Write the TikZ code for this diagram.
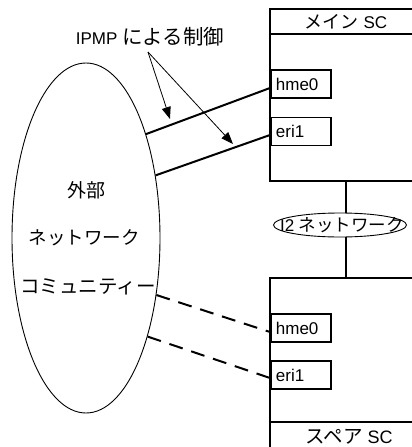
\documentclass[tikz,border=0pt]{standalone}
\usepackage{fontspec}
\setmainfont{Liberation Sans}
\newfontfamily\jp{Noto Sans CJK JP}
\usetikzlibrary{arrows.meta,shapes.geometric}
\begin{document}
\begin{tikzpicture}[x=1pt,y=-1pt,
  box/.style={draw,line width=1.8pt},
  port/.style={draw,line width=1.8pt,minimum height=28pt,text width=50pt,inner xsep=5pt,inner ysep=0pt,align=left,font=\fontsize{17}{20}\selectfont,anchor=west},
  link/.style={line width=2pt},
  dlink/.style={line width=2pt,dash pattern=on 14pt off 9pt},
  arr/.style={line width=0.8pt,-{Triangle[length=12pt,width=9pt]}},
  lbl/.style={font=\fontsize{17}{20}\selectfont,inner sep=0pt},
  jlbl/.style={inner sep=0pt},
  thin/.style={draw,ellipse,line width=0.9pt,inner sep=0pt}]
\useasboundingbox (0,0) rectangle (412,447);
\clip (0,0) rectangle (412,447);

% main SC
\node[box,minimum width=152pt,minimum height=172pt] (main) at (346,95) {};
\draw[box] ([yshift=-26pt]main.north west) -- ([yshift=-26pt]main.north east);
\node[lbl] (maintitle) at (346,22) {{\jp\fontsize{18}{20}\selectfont メイン} SC};
\node[port] (mh) at (270,84) {hme0};
\node[port] (me) at (270,131.5) {eri1};

% I2 network
\node[thin,minimum width=133pt,minimum height=24pt] (i2) at (340,225) {};
\node[lbl] (i2t) at (342,225) {I2 {\jp\fontsize{17.5}{20}\selectfont ネットワーク}};

% spare SC
\node[box,minimum width=152pt,minimum height=180pt] (spare) at (346,368) {};
\draw[box] ([yshift=-145pt]spare.north west) -- ([yshift=-145pt]spare.north east);
\node[lbl,font=\fontsize{18}{20}\selectfont] (sparetitle) at (349,437) {{\jp\fontsize{19.5}{20}\selectfont スペア} SC};
\node[port] (sh) at (270,328) {hme0};
\node[port] (se) at (270,375) {eri1};

\draw[link] (main.south) -- (main.south |- i2.north);
\draw[link] (spare.north |- i2.south) -- (spare.north);

% external network
\node[thin,minimum width=148pt,minimum height=350pt] (ext) at (86,238) {};
\node[jlbl,font=\jp\fontsize{19}{20}\selectfont] (t1) at (86,190) {外部};
\node[jlbl,font=\jp\fontsize{18.5}{20}\selectfont] (t2) at (84,238) {ネットワーク};
\node[jlbl,font=\jp\fontsize{19.5}{20}\selectfont] (t3) at (88,287) {コミュニティー};

\draw[link] (ext.60) -- ([yshift=-4pt]mh.west);
\draw[link] (ext.42) -- ([yshift=-3.5pt]me.west);
\draw[dlink] (ext.-39) -- ([yshift=-4pt]sh.west);
\draw[dlink] (ext.-58) -- ([yshift=-3pt]se.west);

% IPMP label
\node[lbl] (ipmp) at (150,37) {IPMP {\jp\fontsize{20.5}{20}\selectfont による制御}};
\coordinate (fork) at (148,52);
\coordinate (tip1) at (170,119);
\coordinate (tip2) at (233,144);
\draw[arr] (fork) -- (tip1);
\draw[arr] (fork) -- (tip2);
\end{tikzpicture}
\end{document}
